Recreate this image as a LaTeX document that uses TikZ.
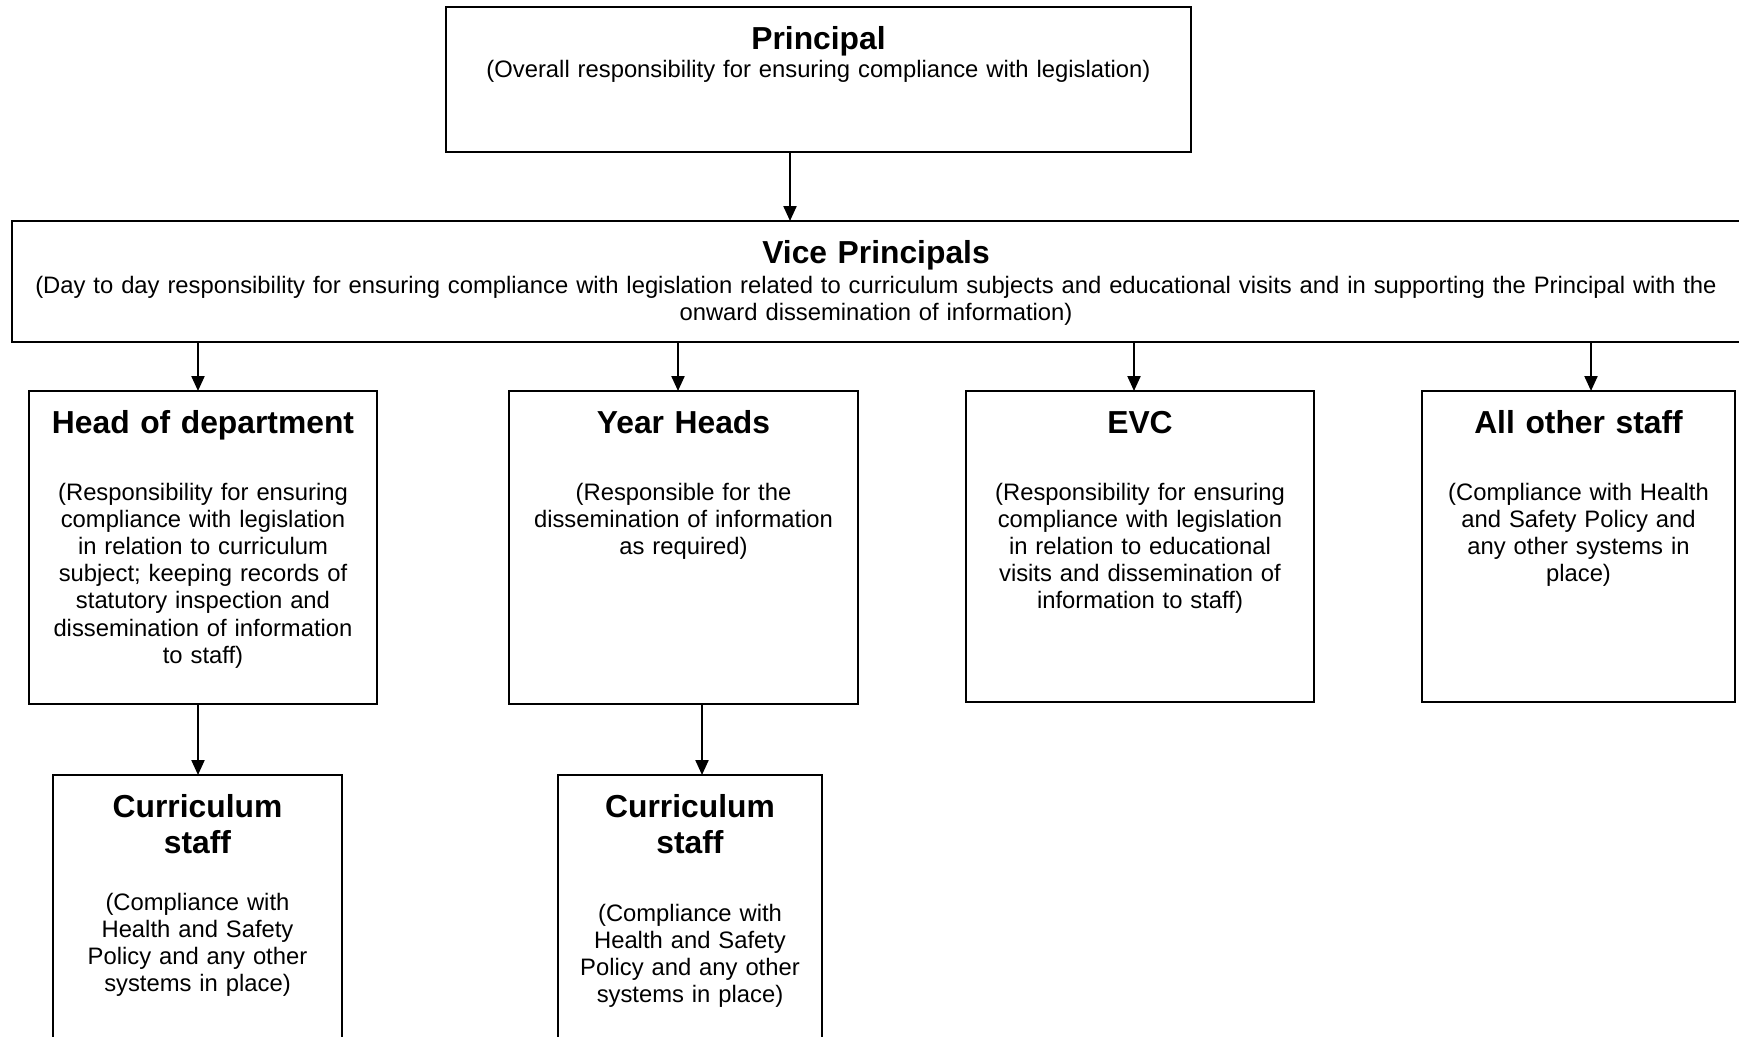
\documentclass[tikz,border=0pt]{standalone}
\usepackage{fontspec}
\setmainfont{Liberation Sans}
\usetikzlibrary{arrows.meta}
\tikzset{
  box/.style={draw, line width=2.9pt, inner sep=0pt, outer sep=0pt},
  ttl/.style={inner sep=0pt, anchor=base, align=center, text width=#1, font=\fontsize{31.8}{36.8}\selectfont\bfseries},
  ttl/.default=400pt,
  txt/.style={inner sep=0pt, anchor=base, align=center, text width=#1, font=\fontsize{23.8}{27.2}\selectfont},
  txt/.default=400pt,
  arr/.style={line width=2.2pt, -{Triangle[length=15pt,width=13pt]}}
}
\begin{document}
\begin{tikzpicture}[x=1pt,y=-1pt]
\useasboundingbox (0,0) rectangle (1739,1036);
% boxes
\node[box, minimum width=745pt, minimum height=145pt] (pr) at (818.5,79.5) {};
\node[box, minimum width=1733pt, minimum height=121pt] (vp) at (878.5,281.5) {};
\node[box, minimum width=348pt, minimum height=313pt] (hod) at (203,547.5) {};
\node[box, minimum width=349pt, minimum height=313pt] (yh) at (683.5,547.5) {};
\node[box, minimum width=348pt, minimum height=311pt] (evc) at (1140,546.5) {};
\node[box, minimum width=313pt, minimum height=311pt] (aos) at (1578.5,546.5) {};
\node[box, minimum width=289pt, minimum height=275pt] (cs1) at (197.5,912.5) {};
\node[box, minimum width=264pt, minimum height=275pt] (cs2) at (690,912.5) {};
% texts
\node[ttl=740pt] (prt) at (818.5,49) {Principal};
\node[txt=740pt] (prs) at (818.5,77) {(Overall responsibility for ensuring compliance with legislation)};
\node[ttl=1730pt] (vpt) at (876,263) {Vice Principals};
\node[txt=1730pt] (vps) at (876,293) {(Day to day responsibility for ensuring compliance with legislation related to curriculum subjects and educational visits and in supporting the Principal with the\\onward dissemination of information)};
\node[ttl] (hodt) at (203,433) {Head of department};
\node[txt] (hods) at (203,500) {(Responsibility for ensuring\\compliance with legislation\\in relation to curriculum\\subject; keeping records of\\statutory inspection and\\dissemination of information\\to staff)};
\node[ttl] (yht) at (683.5,433) {Year Heads};
\node[txt] (yhs) at (683.5,500) {(Responsible for the\\dissemination of information\\as required)};
\node[ttl] (evct) at (1140,433) {EVC};
\node[txt] (evcs) at (1140,500) {(Responsibility for ensuring\\compliance with legislation\\in relation to educational\\visits and dissemination of\\information to staff)};
\node[ttl] (aost) at (1578.5,433) {All other staff};
\node[txt] (aoss) at (1578.5,500) {(Compliance with Health\\and Safety Policy and\\any other systems in\\place)};
\node[ttl] (cs1t) at (197.5,817) {Curriculum\\staff};
\node[txt] (cs1s) at (197.5,910) {(Compliance with\\Health and Safety\\Policy and any other\\systems in place)};
\node[ttl] (cs2t) at (690,817) {Curriculum\\staff};
\node[txt] (cs2s) at (690,921) {(Compliance with\\Health and Safety\\Policy and any other\\systems in place)};
% connector columns
\coordinate (c0) at (790,0);
\coordinate (c1) at (198,0);
\coordinate (c2) at (678,0);
\coordinate (c3) at (1134,0);
\coordinate (c4) at (1591,0);
\coordinate (c5) at (702,0);
\draw[arr] (c0 |- pr.south) -- (c0 |- vp.north);
\draw[arr] (c1 |- vp.south) -- (c1 |- hod.north);
\draw[arr] (c2 |- vp.south) -- (c2 |- yh.north);
\draw[arr] (c3 |- vp.south) -- (c3 |- evc.north);
\draw[arr] (c4 |- vp.south) -- (c4 |- aos.north);
\draw[arr] (c1 |- hod.south) -- (c1 |- cs1.north);
\draw[arr] (c5 |- yh.south) -- (c5 |- cs2.north);
\end{tikzpicture}
\end{document}
